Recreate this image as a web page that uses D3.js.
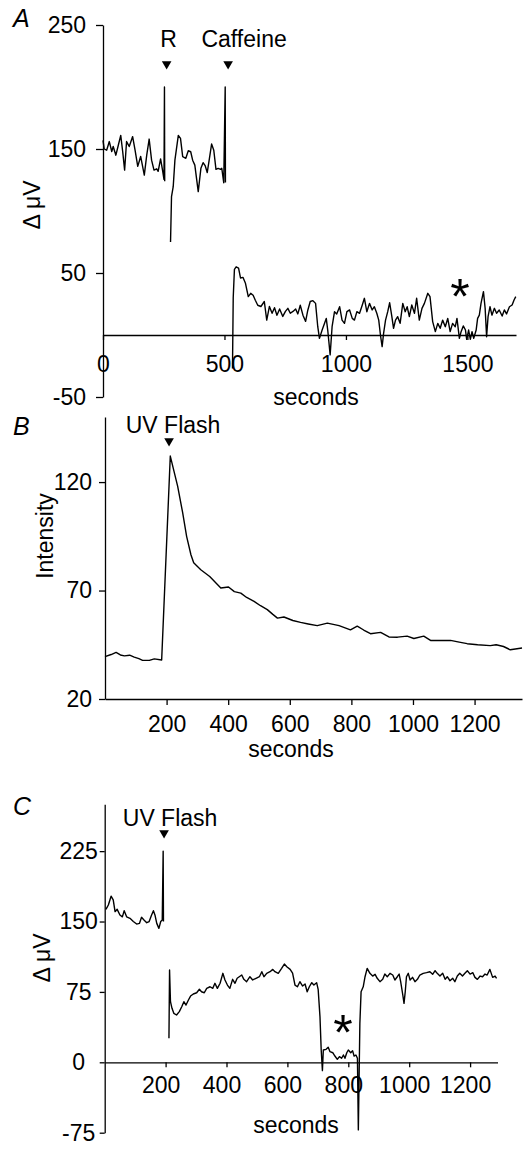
<html>
<script src="https://d3js.org/d3.v7.min.js"></script>
<style>
    body { margin: 0; background: white; }
    svg { font-family: "Liberation Sans", Arial, sans-serif; }
    .trace { fill: none; stroke: black; stroke-width: 1.4px; stroke-linejoin: round; }
    .axis path, .axis line { stroke: black; stroke-width: 1.3px; }
    .axis text { font-size: 23px; fill: black; font-family: "Liberation Sans", Arial, sans-serif; }
    .lbl { font-size: 23px; }
    .panel { font-size: 25px; font-style: italic; }
    .star { font-size: 50px; text-anchor: middle; }
</style>
<svg width=525 height=1154></svg>
<script>

    // ---- data (seconds, value); null = break in recording ----
    let aTrace = [
        [0,157],[5,150],[15,149],[26,156],[36,148],[42,152],[53,145],[63,153],[73,161],[81,148],[89,133],[97,156],
        [108,152],[122,160],[132,149],[143,136],[155,144],[170,129],[180,145],[190,158],[200,141],[210,133],[221,134],
        [227,132],[237,142],[245,133],[251,125.5],[253,200],[254,124],
        null,
        [278,75],[282,111.5],[289,119.6],[296,141],[310,161],[319,158.6],[328,143.8],[341,142.5],[351,148.6],[361,147.8],
        [369,141],[378,137],[392,115.6],[403,134.4],[412,139],[421,136.3],[429,131],[437,141],[447,154],[456,149],
        [465,133.6],[474,134.4],[484,133.6],[489,134.4],[497,122.8],[503,200],[504,123],
        null,
        [533,-27],[536,30],[541,53],[548,55],[558,54],[566,46],[576,46.5],[586,42],[598,31],[608,33.6],[618,32],[627,28],
        [637,24],[650,23],[664,27],[674,12],[685,23],[696,17.5],[706,22],[716,16],[727,21],[740,15],[751,19],[761,21.5],
        [771,17.5],[782,19],[793,21],[802,17],[812,24],[823,16],[834,11],[843,20],[853,27],[864,27.7],[875,25.5],[884,6.7],
        [891,-2.7],[902,4],[912,9.4],[919,13.4],[925,4],[935,-16],[943,6.7],[953,18.8],[962,17],[974,22.8],[984,12],
        [994,9.4],[1004,18.8],[1015,20.2],[1026,13.4],[1035,12],[1045,18.8],[1056,17.5],[1067,24],[1076,29.6],[1086,18.8],
        [1097,25.5],[1108,20.2],[1117,22.8],[1127,17.5],[1135,12],[1142,0],[1149,-9.4],[1155,1.3],[1163,12],[1172,18.8],
        [1180,26],[1189,14.8],[1196,5.4],[1204,12],[1213,14.8],[1223,9.4],[1234,25.5],[1244,18.8],[1252,22.8],[1261,14.8],
        [1271,24.2],[1282,17.5],[1291,29.6],[1302,12],[1313,21.5],[1323,25.5],[1337,33.6],[1346,30.9],[1357,10.8],[1368,2.7],
        [1378,9.4],[1388,5.4],[1398,12],[1409,6.7],[1419,13.4],[1429,2.7],[1439,9.4],[1450,6.7],[1457,13.4],[1467,-2.7],
        [1474,2.7],[1483,7.3],[1492,4],[1497,-3.5],[1505,4],[1512,-3.5],[1519,2.7],[1526,-2.7],[1536,4],[1542,13.4],
        [1549,16],[1556,25.5],[1566,35],[1573,21.5],[1579,-1.4],[1585,14.8],[1593,22.8],[1601,16],[1611,21.5],[1620,17.5],
        [1631,20.2],[1643,15.3],[1652,20.2],[1661,17],[1673,22.8],[1684,24.2],[1692,28.2],[1699,30.9]
    ];

    let bTrace = [
        [0,39.5],[20,40.5],[36,41.5],[50,40.3],[63,39.9],[80,40.2],[95,39.3],[110,38.6],[122,37.8],[144,37.8],[160,38.5],
        [184,38],[212,132],[236,118],[252,106],[265,95],[279,86.5],[288,82.8],[311,79.6],[340,76.5],[376,71.2],[401,71.6],
        [420,69.5],[441,68.8],[460,66.8],[484,65],[505,63],[527,61.2],[545,59],[560,57.3],[581,57.8],[610,56.2],[635,55.3],
        [660,54.6],[689,53.8],[722,55],[760,53.8],[797,51.9],[819,53.6],[840,51.8],[862,50.1],[895,50.7],[922,48.6],
        [950,48.5],[981,49],[1003,47.9],[1035,49],[1057,47],[1090,47],[1122,47],[1150,46.2],[1176,45.5],[1210,45],
        [1251,44.6],[1270,45],[1294,44.2],[1316,42.7],[1354,43.5]
    ];

    let cTrace = [
        [4,163],[12,167.6],[21,177],[28,173],[34,160.5],[41,163],[50,157],[58,155],[64,161.5],[72,155],[83,153.4],[94,150],
        [105,147.3],[114,148],[121,154.5],[129,151.6],[138,148.7],[146,150],[154,157],[160,161.5],[165,157],[171,148],
        [178,142.7],[184,150],[189,151.6],[192,225],[193,150],
        null,
        [211,25.6],[213,98.3],[216,64.6],[221,57.5],[227,52.2],[236,50.4],[245,54],[253,59.2],[260,64.6],[267,61],[275,66.4],
        [282,70.6],[291,72.8],[302,74.1],[311,77.8],[318,75.2],[327,74.1],[335,78.8],[346,80.5],[355,78.8],[362,84.2],
        [370,78.8],[379,84.2],[388,94.8],[395,87.7],[403,82.3],[411,78.8],[420,88.4],[428,84.2],[435,89.5],[450,93],
        [457,88.4],[466,85.9],[477,91.2],[486,87.7],[497,89.5],[508,91.2],[516,96.5],[523,91.2],[532,94.8],[543,96.5],
        [552,99],[559,96.5],[570,94.8],[581,100.1],[590,104.7],[598,101.8],[609,99],[617,95],[625,82.3],[633,80.5],
        [641,85.9],[650,81.3],[658,83.4],[665,75.2],[672,80.5],[680,84.8],[687,82.3],[696,84.8],[701,77.8],[707,48.6],
        [711,13.1],[715,-8.9],[718,13.1],[727,13.8],[734,16],[740,11.3],[749,10.2],[756,6.7],[764,3.2],[771,6],[778,4.3],
        [784,7.8],[789,4.3],[795,10.2],[800,13.1],[808,10.2],[814,12.4],[819,6.7],[825,7.8],[830,4.3],[833,-72],[838,41.5],
        [842,75.2],[849,80.5],[855,91.2],[862,100.1],[871,94.8],[880,91.9],[888,93.7],[895,89.5],[904,85.9],[913,88.4],
        [920,94],[928,91.2],[937,94.8],[946,93],[953,87.7],[961,91.2],[967,94],[972,85.9],[979,71.7],[983,62.8],[987,75.2],
        [991,91.2],[997,94.8],[1003,87.7],[1011,90.5],[1019,85.9],[1027,88.4],[1035,93],[1046,94.8],[1057,95.5],[1068,96.5],
        [1077,93.7],[1085,97.6],[1092,94.8],[1101,91.9],[1110,94.8],[1118,88.4],[1125,91.2],[1134,86.9],[1143,89.5],
        [1150,85.9],[1158,91.9],[1166,94.8],[1175,91.9],[1183,94.8],[1191,97.6],[1200,94],[1209,95.5],[1216,90.5],
        [1224,88.4],[1233,91.9],[1241,91.2],[1249,94],[1256,93],[1265,99],[1274,90.5],[1282,91.9],[1287,89.5]
    ];

    let aXTicks = [0, 500, 1000, 1500];
    let aYTicks = [-50, 50, 150, 250];
    let bXTicks = [200, 400, 600, 800, 1000, 1200];
    let bYTicks = [20, 70, 120];
    let cXTicks = [200, 400, 600, 800, 1000, 1200];
    let cYTicks = [-75, 0, 75, 150, 225];

    // markers: [seconds, label, label offset]
    let aMarks = [[262, 'R', 2], [515, 'Caffeine', 16]];
    let bMarks = [[208, 'UV Flash', 4]];
    let cMarks = [[195, 'UV Flash', 6]];

    let svg = d3.select('svg');

    let fmt = d => String(d);   // plain hyphen, no thousands comma
    let tri = d3.symbol().type(d3.symbolTriangle).size(40);

    let drawTrace = function(x, y, data) {
        let line = d3.line()
            .defined(d => d !== null)
            .x(d => x(d[0]))
            .y(d => y(d[1]));
        svg.append('path').attr('class', 'trace').attr('d', line(data));
    }

    let drawMarks = function(x, marks, triY, textY) {
        marks.forEach(m => {
            svg.append('path')
                .attr('d', tri())
                .attr('transform', 'translate(' + x(m[0]) + ',' + triY + ') rotate(180)');
            svg.append('text')
                .attr('class', 'lbl')
                .attr('x', x(m[0]) + m[2])
                .attr('y', textY)
                .attr('text-anchor', 'middle')
                .text(m[1]);
        });
    }

    let yLabel = function(txt, x, y) {
        svg.append('text')
            .attr('class', 'lbl')
            .attr('text-anchor', 'middle')
            .attr('transform', 'translate(' + x + ',' + y + ') rotate(-90)')
            .text(txt);
    }

    let xLabel = function(x, y) {
        svg.append('text').attr('class', 'lbl')
            .attr('x', x).attr('y', y)
            .attr('text-anchor', 'middle')
            .text('seconds');
    }

    // ---- panel A ----
    let ax = d3.scaleLinear().domain([0, 1700]).range([103, 516]);
    let ay = d3.scaleLinear().domain([-50, 250]).range([397, 25]);

    svg.append('g').attr('class', 'axis')
        .attr('transform', 'translate(103,0)')
        .call(d3.axisLeft(ay).tickValues(aYTicks).tickFormat(fmt).tickSize(7).tickPadding(10).tickSizeOuter(0));
    svg.append('g').attr('class', 'axis')
        .attr('transform', 'translate(0,' + ay(0) + ')')
        .call(d3.axisBottom(ax).tickValues(aXTicks).tickFormat(fmt).tickSize(5).tickPadding(16).tickSizeOuter(0));

    drawTrace(ax, ay, aTrace);
    drawMarks(ax, aMarks, 64, 47);
    svg.append('text').attr('class', 'panel').attr('x', 13).attr('y', 27).text('A');
    svg.append('text').attr('class', 'star').attr('x', 460).attr('y', 314).text('*');
    yLabel('Δ μV', 40, 205);
    xLabel(316, 405);

    // ---- panel B ----
    let bx = d3.scaleLinear().domain([0, 1354]).range([105, 522]);
    let by = d3.scaleLinear().domain([20, 150]).range([699, 417]);

    svg.append('g').attr('class', 'axis')
        .attr('transform', 'translate(105,0)')
        .call(d3.axisLeft(by).tickValues(bYTicks).tickFormat(fmt).tickSize(6).tickPadding(7).tickSizeOuter(0));
    svg.append('g').attr('class', 'axis')
        .attr('transform', 'translate(0,699)')
        .call(d3.axisBottom(bx).tickValues(bXTicks).tickFormat(fmt).tickSize(6).tickPadding(11).tickSizeOuter(0));

    drawTrace(bx, by, bTrace);
    drawMarks(bx, bMarks, 441, 433);
    svg.append('text').attr('class', 'panel').attr('x', 13).attr('y', 435).text('B');
    yLabel('Intensity', 53, 536);
    xLabel(291, 757);

    // ---- panel C ----
    let cx = d3.scaleLinear().domain([0, 1290]).range([104.7, 497.5]);
    let cy = d3.scaleLinear().domain([-75, 275]).range([1132.7, 804.2]);

    svg.append('g').attr('class', 'axis')
        .attr('transform', 'translate(104.7,0)')
        .call(d3.axisLeft(cy).tickValues(cYTicks).tickFormat(fmt).tickSize(5).tickSizeOuter(0))
        .selectAll('text').attr('x', -26).attr('text-anchor', 'middle');
    svg.append('g').attr('class', 'axis')
        .attr('transform', 'translate(0,' + cy(0) + ')')
        .call(d3.axisBottom(cx).tickValues(cXTicks).tickFormat(fmt).tickSize(5).tickPadding(9).tickSizeOuter(0))
        .selectAll('text').attr('dx', -5);

    drawTrace(cx, cy, cTrace);
    drawMarks(cx, cMarks, 833, 826);
    svg.append('text').attr('class', 'panel').attr('x', 13).attr('y', 815).text('C');
    svg.append('text').attr('class', 'star').attr('x', 343).attr('y', 1050).text('*');
    yLabel('Δ μV', 50, 958);
    xLabel(296, 1133);

</script>
</html>
